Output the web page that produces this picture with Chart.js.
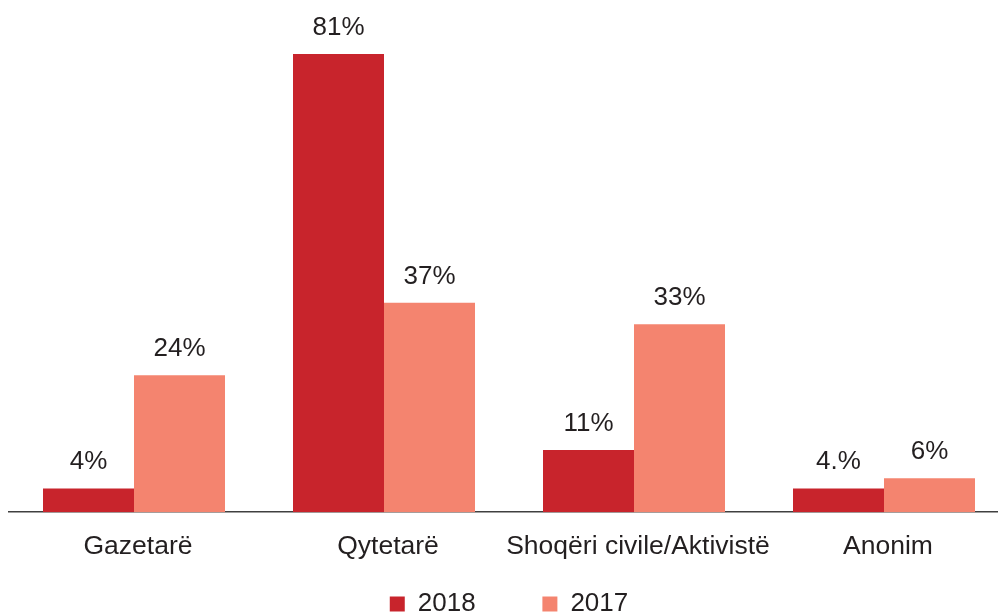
<!DOCTYPE html>
<html>
<head>
<meta charset="utf-8">
<script src="https://cdn.jsdelivr.net/npm/chart.js@4.4.1/dist/chart.umd.min.js"></script>
<style>
    html, body { margin: 0; padding: 0; background: #fff; overflow: hidden; }
    #wrap { width: 1009px; height: 627px; position: relative; }
</style>
</head>
<body>
<div id="wrap"><canvas id="chart"></canvas></div>
<script>
// Chart values
const categories = ['Gazetarë', 'Qytetarë', 'Shoqëri civile/Aktivistë', 'Anonim'];
const values2018 = [4.2, 81, 11, 4.2];
const values2017 = [24.2, 37, 33.2, 6];
const labels2018 = ['4%', '81%', '11%', '4.%'];
const labels2017 = ['24%', '37%', '33%', '6%'];

const FONT = '"Liberation Sans", Arial, sans-serif';

// draws the value text above each bar
const valueLabels = {
    id: 'valueLabels',
    afterDatasetsDraw(chart) {
        const ctx = chart.ctx;
        ctx.save();
        ctx.font = '26px ' + FONT;
        ctx.fillStyle = '#231f20';
        ctx.textAlign = 'center';
        ctx.textBaseline = 'alphabetic';
        chart.data.datasets.forEach((ds, i) => {
            chart.getDatasetMeta(i).data.forEach((bar, j) => {
                ctx.fillText(ds.valueText[j], bar.x, bar.y - 19);
            });
        });
        ctx.restore();
    }
};

const ctx = document.getElementById('chart');
new Chart(ctx, {
    type: 'bar',
    data: {
        labels: categories,
        datasets: [
            {
                label: '2018',
                data: values2018,
                valueText: labels2018,
                backgroundColor: '#c8242c',
                barPercentage: 1,
                categoryPercentage: 0.728
            },
            {
                label: '2017',
                data: values2017,
                valueText: labels2017,
                backgroundColor: '#f4846f',
                barPercentage: 1,
                categoryPercentage: 0.728
            }
        ]
    },
    options: {
        responsive: true,
        maintainAspectRatio: false,
        animation: false,
        layout: { padding: { left: 9, right: 0, top: 3, bottom: 0 } },
        scales: {
            x: {
                grid: { display: false, drawTicks: false },
                border: { display: true, color: '#404040', width: 1.5 },
                ticks: {
                    color: '#231f20',
                    font: { family: FONT, size: 26.5 },
                    padding: 19,
                    labelOffset: 4,
                    maxRotation: 0,
                    minRotation: 0,
                    autoSkip: false
                }
            },
            y: {
                display: false,
                min: 0,
                max: 90
            }
        },
        plugins: {
            legend: {
                position: 'bottom',
                labels: {
                    color: '#231f20',
                    font: { family: FONT, size: 26 },
                    boxWidth: 15,
                    boxHeight: 15,
                    padding: 9,
                    // widen the gap after the first item
                    generateLabels(chart) {
                        const items = Chart.defaults.plugins.legend.labels.generateLabels(chart);
                        items[0].text = items[0].text + '        ';
                        return items;
                    }
                }
            },
            tooltip: { enabled: false }
        }
    },
    plugins: [valueLabels]
});
</script>
</body>
</html>
